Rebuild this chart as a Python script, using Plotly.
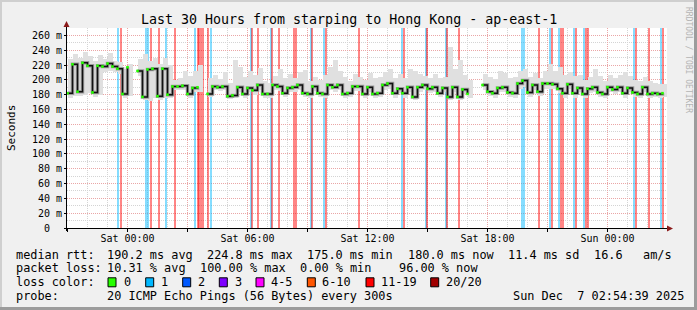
import plotly.graph_objects as go

# ---------------- data ----------------
# time axis: minutes relative to "Sat 00:00"; median sampled every 15 min starting at T0
T0 = -180
STEP = 15
median_ms = [182, 221, 184, 223, 219, 183, 219, 218, 222, 218, 215, 181, 217,
             None,
             212, 177, 214, 215, 178, 215, 180,
             191, 191, 192, 181, 189,
             190,
             None,
             181, 191, 190, 191,
             178, 179, 190, 181, 189, 186, 193, 181, 181,
             193, 191, 182, 189, 190, 193, 182, 181, 191, 182,
             181, 193, 190, 193, 181, 182, 191, 191, 181, 190,
             181, 182, 193, 195, 182, 188, 182, 190, 177, 190,
             193, 188, 190, 182, 189, 177, 190, 177, 187, 181,
             None, None,
             193, 184, 182, 189, 190, 183, 182, 195,
             199, 183, 193, 184, 195, 195, 194, 188, 182, 194,
             182, 189, 181, 188, 190, 183, 181, 190, 187, 190,
             182, 189, 183, 181, 190, 181, 182, 181, 182]
smoke_hi_ms = [228, 235, 230, 238, 232, 226, 233, 228, 236, 226, 224, 215, 222,
               None,
               228, 235, 226, 230, 222, 230, 220,
               200, 203, 212, 205, 212,
               220,
               None,
               203, 206, 201, 210,
               196, 227, 218, 204, 212, 206, 216, 198, 196,
               205, 214, 202, 208, 203, 211, 213, 198, 204, 200,
               207, 218, 227, 212, 204, 198, 208, 204, 200, 209,
               203, 204, 210, 214, 202, 208, 203, 215, 212, 208,
               205, 203, 208, 202, 204, 245, 214, 227, 206, 200,
               None, None,
               208, 204, 201, 212, 209, 202, 204, 212,
               214, 204, 209, 203, 212, 222, 212, 218, 206, 211,
               205, 206, 200, 204, 215, 205, 198, 206, 203, 207,
               211, 205, 200, 198, 204, 198, 196, 195, 194]
smoke_lo_ms = [176, 178, 178, 180, 182, 177, 180, 210, 212, 210, 208, 176, 178,
               None,
               205, 173, 172, 175, 173, 176, 175,
               186, 186, 186, 176, 183,
               184,
               None,
               177, 186, 185, 186,
               174, 175, 184, 176, 183, 180, 186, 176, 176,
               186, 185, 177, 183, 184, 186, 177, 176, 185, 177,
               176, 186, 184, 186, 176, 177, 185, 185, 176, 184,
               176, 177, 186, 188, 176, 182, 176, 184, 173, 184,
               186, 182, 184, 177, 183, 173, 184, 173, 181, 176,
               None, None,
               186, 178, 176, 183, 184, 177, 176, 188,
               190, 177, 186, 178, 188, 188, 187, 182, 176, 187,
               176, 183, 176, 182, 184, 177, 176, 184, 181, 184,
               176, 183, 177, 176, 184, 176, 177, 176, 177]

# packet-loss events: time (minutes from Sat 00:00) and pings lost out of 20
loss_min = [-28, -21, 55, 60, 69, 93, 115, 142, 201, 210, 215, 220, 225, 241, 250,
            369, 374, 392, 429, 434, 454, 499, 504, 550, 554, 589, 594, 693,
            824, 829, 894, 898, 955, 959, 994, 1184, 1189, 1233, 1267, 1273,
            1294, 1300, 1306, 1340, 1345, 1369, 1375, 1381, 1520, 1525, 1564,
            1600, 1605]
loss_count = [1, 15, 1, 1, 15, 15, 1, 15, 1, 15, 15, 15, 15, 15, 1,
              1, 15, 15, 1, 15, 15, 15, 15, 1, 15, 1, 15, 15,
              1, 15, 1, 15, 1, 15, 15, 1, 1, 15, 1, 15,
              1, 15, 15, 1, 15, 1, 15, 15, 1, 15, 15,
              1, 15]

x_tick_vals = [-180, 0, 180, 360, 540, 720, 900, 1080, 1260, 1440, 1620]
x_tick_text = ["", "Sat 00:00", "", "Sat 06:00", "", "Sat 12:00", "", "Sat 18:00", "", "Sun 00:00", ""]
y_tick_vals = [0, 20, 40, 60, 80, 100, 120, 140, 160, 180, 200, 220, 240, 260]
y_tick_text = ["0\u00a0\u00a0", "20 m", "40 m", "60 m", "80 m", "100 m", "120 m", "140 m",
               "160 m", "180 m", "200 m", "220 m", "240 m", "260 m"]

loss_labels = ["0", "1", "2", "3", "4-5", "6-10", "11-19", "20/20"]
loss_colors = ["#26ff00", "#00b8ff", "#0059ff", "#7e00ff", "#ff00ff", "#ff5500", "#ff0000", "#a10000"]

stats_rtt = ["190.2 ms avg", "224.8 ms max", "175.0 ms min", "180.0 ms now", "11.4 ms sd", "16.6", "am/s"]
stats_loss = ["10.31 % avg", "100.00 % max", "0.00 % min", "96.00 % now"]
probe_text = "20 ICMP Echo Pings (56 Bytes) every 300s"
stamp_text = "Sun Dec  7 02:54:39 2025"
title_text = "Last 30 Hours from starping to Hong Kong - ap-east-1"

# ---------------- layout constants ----------------
W, H = 697, 310
L, T, PW, PH = 67, 28, 600, 200
XMIN, XMAX = -181.5, 1618.5
YMAX = 270
MONO = "DejaVu Sans Mono"


def px(x):
    return (x - L) / PW


def py(y):
    return (T + PH - y) / PH


def bucket(n):
    if n <= 3:
        return n
    if n <= 5:
        return 4
    if n <= 10:
        return 5
    if n <= 19:
        return 6
    return 7


def rgba(hexc, a):
    hexc = hexc.lstrip("#")
    r, g, b = int(hexc[0:2], 16), int(hexc[2:4], 16), int(hexc[4:6], 16)
    return f"rgba({r},{g},{b},{a})"


def nb(s):
    return s.replace(" ", "\u00a0")


times = [T0 + STEP * i for i in range(len(median_ms))]

fig = go.Figure()

# loss bars (full height)
fig.add_trace(go.Bar(
    x=loss_min, y=[YMAX] * len(loss_min), base=0, width=6,
    marker=dict(color=[rgba(loss_colors[bucket(n)], 0.48) for n in loss_count], line=dict(width=0)),
    hoverinfo="skip"))

# smoke
fig.add_trace(go.Bar(
    x=times,
    base=smoke_lo_ms,
    y=[(h - l) if (h is not None and l is not None) else None for h, l in zip(smoke_hi_ms, smoke_lo_ms)],
    width=STEP, offset=0,
    marker=dict(color="#e0e0e0", line=dict(width=0)),
    hoverinfo="skip"))

# dark smoke core
fig.add_trace(go.Scatter(
    x=times, y=median_ms, mode="lines", line=dict(color="#9a9a9a", width=3.5, shape="hv"),
    hoverinfo="skip"))

# median
fig.add_trace(go.Scatter(
    x=times, y=median_ms, mode="lines+markers",
    line=dict(color="#111111", width=1.5, shape="hv"),
    marker=dict(symbol="square", size=2.6, color=loss_colors[0], line=dict(width=0)),
    hoverinfo="skip"))

GRID = "#d4d4d4"
MGRID = "#eaa6a6"
DASH = "1px,1px"

fig.update_layout(
    width=W, height=H,
    margin=dict(l=L, r=W - L - PW, t=T, b=H - T - PH, pad=0),
    paper_bgcolor="#f0f0f0", plot_bgcolor="#ffffff",
    showlegend=False, barmode="overlay", bargap=0,
    font=dict(family=MONO, size=10, color="#000000"),
    xaxis=dict(range=[XMIN, XMAX], tickmode="array", tickvals=x_tick_vals, ticktext=x_tick_text,
               showgrid=True, gridcolor=MGRID, griddash=DASH, gridwidth=1,
               minor=dict(tick0=0, dtick=60, showgrid=True, gridcolor=GRID, griddash=DASH, gridwidth=1),
               ticks="outside", ticklen=3, tickcolor="#000000", tickwidth=1,
               ticklabelstandoff=-2,
               showline=False, zeroline=False, fixedrange=True,
               tickfont=dict(family=MONO, size=10, color="#000000")),
    yaxis=dict(range=[0, YMAX], tickmode="array", tickvals=y_tick_vals, ticktext=y_tick_text,
               showgrid=True, gridcolor=MGRID, griddash=DASH, gridwidth=1,
               minor=dict(tick0=0, dtick=10, showgrid=True, gridcolor=GRID, griddash=DASH, gridwidth=1),
               ticks="outside", ticklen=2, tickcolor="#000000", tickwidth=1,
               showline=False, zeroline=False, fixedrange=True,
               tickfont=dict(family=MONO, size=10, color="#000000")),
)

shapes = []
# frame
shapes.append(dict(type="rect", xref="paper", yref="paper", x0=px(0), x1=px(W), y0=py(0), y1=py(2),
                   fillcolor="#cfcfcf", line=dict(width=0), layer="above"))
shapes.append(dict(type="rect", xref="paper", yref="paper", x0=px(0), x1=px(2), y0=py(0), y1=py(H),
                   fillcolor="#cfcfcf", line=dict(width=0), layer="above"))
shapes.append(dict(type="rect", xref="paper", yref="paper", x0=px(0), x1=px(W), y0=py(H - 3), y1=py(H),
                   fillcolor="#9c9c9c", line=dict(width=0), layer="above"))
shapes.append(dict(type="rect", xref="paper", yref="paper", x0=px(W - 3), x1=px(W), y0=py(0), y1=py(H),
                   fillcolor="#9c9c9c", line=dict(width=0), layer="above"))
# axes
shapes.append(dict(type="line", xref="paper", yref="paper", x0=px(64), x1=px(668), y0=py(228.5), y1=py(228.5),
                   line=dict(color="#000000", width=1), layer="above"))
shapes.append(dict(type="line", xref="paper", yref="paper", x0=px(66.5), x1=px(66.5), y0=py(231), y1=py(25),
                   line=dict(color="#000000", width=1), layer="above"))
shapes.append(dict(type="path", xref="paper", yref="paper",
                   path=f"M {px(667)},{py(225.5)} L {px(673)},{py(228.5)} L {px(667)},{py(231.5)} Z",
                   fillcolor="#8b1a1a", line=dict(width=0), layer="above"))
shapes.append(dict(type="path", xref="paper", yref="paper",
                   path=f"M {px(63.5)},{py(27)} L {px(66.5)},{py(21)} L {px(69.5)},{py(27)} Z",
                   fillcolor="#8b1a1a", line=dict(width=0), layer="above"))

annotations = []


def txt(x, y, s, size=11.86, anchor="left", color="#000000", angle=0, yanchor="middle"):
    annotations.append(dict(xref="paper", yref="paper", x=px(x), y=py(y), text=nb(s),
                            showarrow=False, xanchor=anchor, yanchor=yanchor, textangle=angle,
                            borderpad=0, font=dict(family=MONO, size=size, color=color)))


# title and side texts
txt(348.5, 19.5, title_text, size=13.3, anchor="center")
txt(11, 128, "Seconds", size=11, anchor="center", angle=-90)
txt(689, 60, "RRDTOOL / TOBI OETIKER", size=8, anchor="center", color="#b4b4b4", angle=90)

# legend rows
ROW = [254.5, 268.3, 282.3, 296]
txt(15, ROW[0], "median rtt:")
for s, x in zip(stats_rtt, [106.3, 206.3, 306.3, 407.3, 507.3, 593, 641.7]):
    txt(x, ROW[0], s)
txt(15, ROW[1], "packet loss:")
for s, x in zip(stats_loss, [106.3, 199.0, 299, 398.3]):
    txt(x, ROW[1], s)
txt(15, ROW[2], "loss color:")
box_x = [108, 145.7, 182.7, 219.3, 256, 307.3, 366, 430.7]
lab_x = [123, 160, 197, 234, 270, 320.7, 379.7, 445]
for c, lab, bx, lx in zip(loss_colors, loss_labels, box_x, lab_x):
    shapes.append(dict(type="rect", xref="paper", yref="paper", x0=px(bx), x1=px(bx + 8),
                       y0=py(ROW[2] - 4.5), y1=py(ROW[2] + 4.5), fillcolor=c,
                       line=dict(color="#000000", width=1), layer="above"))
    txt(lx, ROW[2], lab)
txt(15, ROW[3], "probe:")
txt(106.3, ROW[3], probe_text)
txt(512.3, ROW[3], stamp_text)

fig.update_layout(shapes=shapes, annotations=annotations)

fig.write_html("out.html")
